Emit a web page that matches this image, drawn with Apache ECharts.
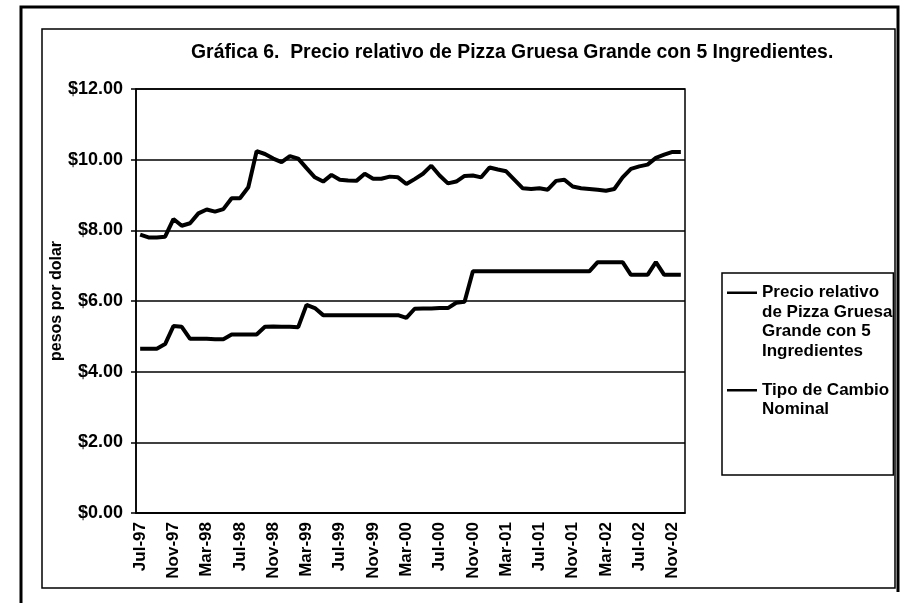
<!DOCTYPE html>
<html>
<head>
<meta charset="utf-8">
<script src="https://cdn.jsdelivr.net/npm/echarts@6/dist/echarts.min.js"></script>
<style>
  html, body { margin: 0; padding: 0; background: #fff; }
  #chart { width: 902px; height: 603px; }
</style>
</head>
<body>
<div id="chart"></div>
<script>
// meses (jul-97 a dic-02)
const months = [
  'Jul-97', 'Aug-97', 'Sep-97', 'Oct-97', 'Nov-97', 'Dec-97',
  'Jan-98', 'Feb-98', 'Mar-98', 'Apr-98', 'May-98', 'Jun-98', 'Jul-98', 'Aug-98', 'Sep-98', 'Oct-98', 'Nov-98', 'Dec-98',
  'Jan-99', 'Feb-99', 'Mar-99', 'Apr-99', 'May-99', 'Jun-99', 'Jul-99', 'Aug-99', 'Sep-99', 'Oct-99', 'Nov-99', 'Dec-99',
  'Jan-00', 'Feb-00', 'Mar-00', 'Apr-00', 'May-00', 'Jun-00', 'Jul-00', 'Aug-00', 'Sep-00', 'Oct-00', 'Nov-00', 'Dec-00',
  'Jan-01', 'Feb-01', 'Mar-01', 'Apr-01', 'May-01', 'Jun-01', 'Jul-01', 'Aug-01', 'Sep-01', 'Oct-01', 'Nov-01', 'Dec-01',
  'Jan-02', 'Feb-02', 'Mar-02', 'Apr-02', 'May-02', 'Jun-02', 'Jul-02', 'Aug-02', 'Sep-02', 'Oct-02', 'Nov-02', 'Dec-02'
];

// precio relativo de la pizza
const pizzaValues = [
  7.88, 7.80, 7.80, 7.82, 8.32, 8.13,
  8.20, 8.48, 8.59, 8.53, 8.60, 8.91, 8.91, 9.22, 10.24, 10.16, 10.03, 9.93,
  10.10, 10.03, 9.76, 9.50, 9.38, 9.57, 9.43, 9.41, 9.40, 9.60, 9.46, 9.46,
  9.52, 9.50, 9.31, 9.45, 9.60, 9.83, 9.55, 9.33, 9.38, 9.54, 9.55, 9.50,
  9.78, 9.72, 9.67, 9.43, 9.19, 9.17, 9.19, 9.15, 9.40, 9.43, 9.24, 9.19,
  9.17, 9.15, 9.12, 9.17, 9.50, 9.74, 9.81, 9.86, 10.05, 10.14, 10.22, 10.22
];

// tipo de cambio nominal
const cambioValues = [
  4.65, 4.65, 4.65, 4.78, 5.29, 5.27,
  4.93, 4.93, 4.93, 4.92, 4.92, 5.05, 5.05, 5.05, 5.05, 5.27, 5.28, 5.27,
  5.27, 5.26, 5.89, 5.80, 5.60, 5.60, 5.60, 5.60, 5.60, 5.60, 5.60, 5.60,
  5.60, 5.60, 5.52, 5.78, 5.79, 5.79, 5.80, 5.80, 5.95, 5.98, 6.84, 6.84,
  6.84, 6.84, 6.84, 6.84, 6.84, 6.84, 6.84, 6.84, 6.84, 6.84, 6.84, 6.84,
  6.84, 7.10, 7.10, 7.10, 7.10, 6.74, 6.74, 6.74, 7.10, 6.74, 6.74, 6.74
];

const seriesNames = [
  'Precio relativo\nde Pizza Gruesa\nGrande con 5\nIngredientes',
  'Tipo de Cambio\nNominal'
];

const FONT = "'Liberation Sans', Arial, sans-serif";

const chart = echarts.init(document.getElementById('chart'));

const option = {
  backgroundColor: '#fff',
  animation: false,
  title: {
    text: 'Gráfica 6.  Precio relativo de Pizza Gruesa Grande con 5 Ingredientes.',
    left: 191,
    top: 43,
    padding: 0,
    textStyle: { fontFamily: FONT, fontWeight: 'bold', fontSize: 19.4, color: '#000' }
  },
  grid: {
    left: 136, top: 89, right: 217, bottom: 90,
    show: true, borderColor: '#000', borderWidth: 1.5, backgroundColor: '#fff'
  },
  legend: {
    orient: 'vertical',
    left: 722,
    top: 273,
    padding: [10, 1, 36, 5],
    itemGap: 0,
    itemWidth: 30,
    itemHeight: 78,
    borderColor: '#000',
    borderWidth: 1.5,
    selectedMode: false,
    itemStyle: { borderWidth: 0 },
    textStyle: { fontFamily: FONT, fontWeight: 'bold', fontSize: 17, lineHeight: 19.5, color: '#000' },
    data: [
      { name: seriesNames[0], icon: 'path://M0,0M30,78M0,8.5L30,8.5L30,11L0,11Z' },
      { name: seriesNames[1], icon: 'path://M0,0M30,78M0,28L30,28L30,30.5L0,30.5Z' }
    ]
  },
  xAxis: {
    type: 'category',
    data: months,
    boundaryGap: true,
    axisLine: { lineStyle: { color: '#000', width: 1.5 } },
    axisTick: { interval: 3, length: 5, lineStyle: { color: '#000', width: 1.5 } },
    axisLabel: {
      interval: 3, rotate: 90, margin: 9,
      fontFamily: FONT, fontWeight: 'bold', fontSize: 17, color: '#000'
    },
    splitLine: { show: false }
  },
  yAxis: {
    type: 'value',
    min: 0, max: 12, interval: 2,
    name: 'pesos por dolar',
    nameLocation: 'middle',
    nameRotate: 90,
    nameGap: 71,
    nameMoveOverlap: false,
    nameTextStyle: { fontFamily: FONT, fontWeight: 'bold', fontSize: 16, color: '#000' },
    axisLine: { show: true, lineStyle: { color: '#000', width: 1.5 } },
    axisTick: { show: true, length: 5, lineStyle: { color: '#000', width: 1.5 } },
    axisLabel: {
      margin: 13,
      formatter: v => '$' + v.toFixed(2),
      fontFamily: FONT, fontWeight: 'bold', fontSize: 18, color: '#000'
    },
    splitLine: { lineStyle: { color: '#000', width: 1.5 } }
  },
  series: [
    {
      name: seriesNames[0],
      type: 'line',
      data: pizzaValues,
      symbol: 'none',
      color: '#000',
      lineStyle: { color: '#000', width: 4 }
    },
    {
      name: seriesNames[1],
      type: 'line',
      data: cambioValues,
      symbol: 'none',
      color: '#000',
      lineStyle: { color: '#000', width: 4 }
    }
  ],
  // marcos de la hoja (exterior grueso, interior del área del gráfico)
  graphic: [
    {
      type: 'polyline', silent: true,
      shape: { points: [[21, 610], [21, 7], [898, 7], [898, 592]] },
      style: { stroke: '#000', lineWidth: 3, fill: null }
    },
    {
      type: 'rect', silent: true,
      shape: { x: 42, y: 29, width: 853, height: 559 },
      style: { stroke: '#000', lineWidth: 1.5, fill: null }
    }
  ]
};

chart.setOption(option);
</script>
</body>
</html>
